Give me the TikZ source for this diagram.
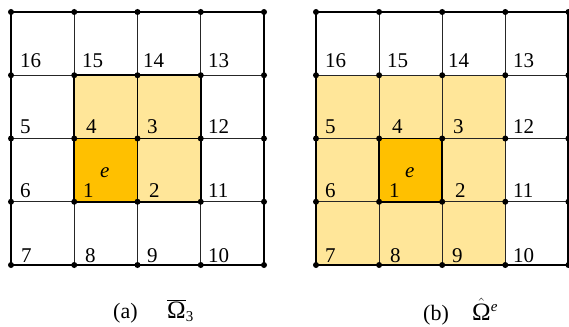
\documentclass[tikz,border=0pt]{standalone}
\usepackage{fontspec}
\setmainfont{Liberation Serif}
\definecolor{elemorange}{HTML}{FFC000}
\definecolor{patchyellow}{HTML}{FFE699}
\tikzset{
  thinline/.style={line width=0.8pt, black!85},
  thickline/.style={line width=1.9pt},
  num/.style={anchor=base west, inner sep=0pt, font=\fontsize{21}{21}\selectfont},
  captext/.style={anchor=base west, inner sep=0pt, font=\fontsize{22}{22}\selectfont},
}
\newcommand{\bigomega}{\mbox{\fontsize{25}{25}\selectfont Ω}}
\newcommand{\smallsc}[1]{\mbox{\fontsize{15}{15}\selectfont #1}}

\begin{document}
\begin{tikzpicture}[x=1pt,y=-1pt]
\useasboundingbox (0,0) rectangle (569,326);
% grid points of both meshes
\foreach \i in {0,...,4}
  \foreach \j in {0,...,4} {
    \coordinate (a-\i-\j) at ({11+63.25*\i},{12+63.25*\j});
    \coordinate (b-\i-\j) at ({316+63.1*\i},{12+63.25*\j});
  }

% (a) patch of element e
\fill[patchyellow] (a-1-1) rectangle (a-3-2);
\fill[patchyellow] (a-2-2) rectangle (a-3-3);
\fill[elemorange] (a-1-2) rectangle (a-2-3);
\foreach \k in {1,2,3} {
  \draw[thinline] (a-\k-0) -- (a-\k-4);
  \draw[thinline] (a-0-\k) -- (a-4-\k);
}
\draw[thickline] (a-0-0) rectangle (a-4-4);
\draw[thickline] (a-1-1) rectangle (a-3-3);
\draw[thickline] (a-2-1) -- (a-2-3) (a-1-2) -- (a-3-2);

% (b) neighbourhood of element e
\fill[patchyellow] (b-0-1) rectangle (b-3-4);
\fill[elemorange] (b-1-2) rectangle (b-2-3);
\foreach \k in {1,2,3} {
  \draw[thinline] (b-\k-0) -- (b-\k-4);
  \draw[thinline] (b-0-\k) -- (b-4-\k);
}
\draw[thickline] (b-0-0) rectangle (b-4-4);
\draw[thickline] (b-1-2) rectangle (b-2-3);

% nodes
\foreach \i in {0,...,4}
  \foreach \j in {0,...,4} {
    \fill (a-\i-\j) circle (3pt);
    \fill (b-\i-\j) circle (3pt);
  }

% node numbers
\foreach \t/\x/\y in {16/20/68, 15/82/68, 14/143/68, 13/208/68,
    5/20/133, 4/86/133, 3/147/133, 12/208/133,
    6/20/197, 1/83/197, 2/149/197, 11/208/197,
    7/21/262, 8/85/262, 9/147/262, 10/208/262}
  \node[num] (la-\t) at (\x,\y) {\t};
\foreach \t/\x/\y in {16/325/68, 15/387/68, 14/448/68, 13/513/68,
    5/325/133, 4/392/133, 3/453/133, 12/513/133,
    6/325/197, 1/389/197, 2/455/197, 11/513/197,
    7/325/262, 8/390/262, 9/452/262, 10/513/262}
  \node[num] (lb-\t) at (\x,\y) {\t};
\node[num] (ea) at (100,177) {\itshape e};
\node[num] (eb) at (405,177) {\itshape e};

% captions
\node[captext] (capa) at (113,318) {(a)};
\node[captext] (syma) at (167,318) {$\overline{\bigomega}_{\smallsc{3}}$};
\node[captext] (capb) at (423,320) {(b)};
\node[captext] (symb) at (472,320) {$\hat{\bigomega}$\raisebox{9pt}{\smallsc{\itshape e}}};
\end{tikzpicture}
\end{document}
